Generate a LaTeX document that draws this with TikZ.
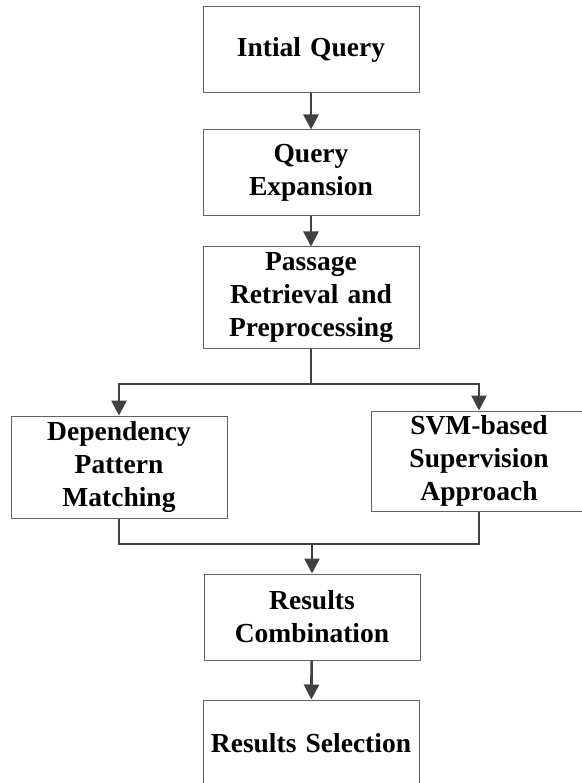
\documentclass[tikz,border=0pt]{standalone}
\usepackage{fontspec}
\setmainfont{Liberation Serif}
\usetikzlibrary{arrows.meta}
\begin{document}
\begin{tikzpicture}[x=1pt,y=-1pt,
  box/.style={draw=black!62,line width=1pt,fill=white,rectangle,inner sep=0pt,
    minimum width=216pt,text width=210pt,align=center,
    font=\bfseries\fontsize{27.5}{33}\selectfont},
  conn/.style={draw=black!75,line width=2.6pt},
  arr/.style={conn,-{Triangle[width=15pt,length=15pt]}}]
\useasboundingbox (0,0) rectangle (581,783);
\node[box,minimum height=86pt] (b1) at (311,50) {Intial Query};
\node[box,minimum height=86pt] (b2) at (311,173) {Query\\Expansion};
\node[box,minimum height=101pt] (b3) at (311,297.5) {Passage\\Retrieval and\\Preprocessing};
\node[box,minimum height=102pt] (dep) at (119,467) {Dependency\\Pattern\\Matching};
\node[box,minimum height=100pt] (svm) at (479,461) {SVM-based\\Supervision\\Approach};
\node[box,minimum height=86pt] (b6) at (312,617) {Results\\Combination};
\node[box,minimum height=86pt] (b7) at (311,743) {Results Selection};
\coordinate (split) at (311,384);
\coordinate (merge) at (312,544);
\draw[arr] (b1) -- (b2);
\draw[arr] (b2) -- (b3);
\draw[conn] (b3.south) -- (split);
\draw[arr] (split) -| (dep.north);
\draw[arr] (split) -| (svm.north);
\draw[conn] (dep.south) |- (merge) -| (svm.south);
\draw[arr] (merge) -- (b6.north);
\draw[arr] (b6) -- (b7);
\end{tikzpicture}
\end{document}
